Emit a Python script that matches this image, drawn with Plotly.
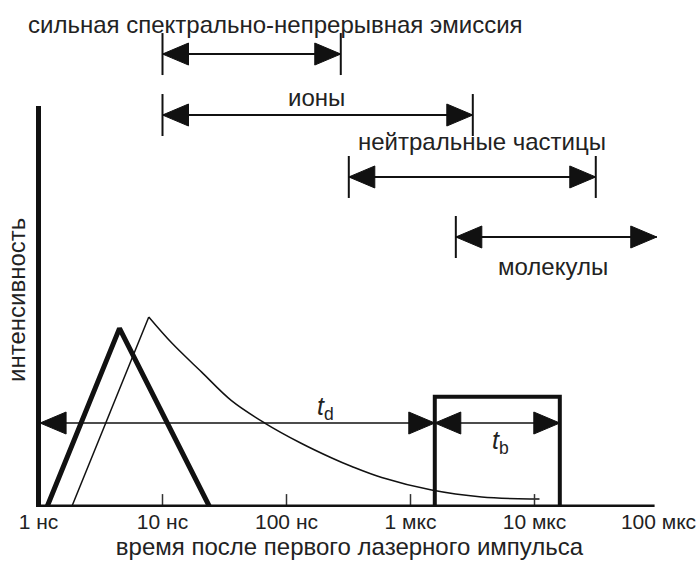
import numpy as np
import plotly.graph_objects as go

FONT = "Liberation Sans, Arial, sans-serif"
INK = "#111111"
TXT = "#222222"

# ---- time axis (values in ns) ----
tick_ns = [1, 10, 100, 1e3, 1e4, 1e5]
tick_text = ["1 нс", "10 нс", "100 нс", "1 мкс", "10 мкс", "100 мкс"]
tick_mark_ns = [10, 100, 1e3, 1e4]
axis_origin_ns = 1.0
axis_end_ns = 9.3e4
axis_top = 2.11

# ---- laser pulse (bold triangle) ----
pulse_ns = [1.17, 4.5, 24.0]
pulse_int = [0.0, 0.94, 0.0]

# ---- plasma emission: fast rise, slow decay ----
emission_ns = [1.85, 7.75, 12.0, 20.7, 36.0, 66.8, 130, 232, 336, 586, 1480, 3750, 9500, 10970]
emission_int = [0.0, 1.0, 0.86, 0.71, 0.56, 0.442, 0.337, 0.258, 0.213, 0.155, 0.089, 0.053, 0.042, 0.042]

# ---- detector gate ----
gate_open_ns = 1570
gate_close_ns = 16000
gate_height = 0.58
gate_row = 0.442

# ---- lifetimes of plasma species ----
span_labels = ["сильная спектрально-непрерывная эмиссия", "ионы",
               "нейтральные частицы", "молекулы"]
span_start_ns = [10, 10, 318, 2320]
span_end_ns = [274, 3180, 31200, 96800]
span_row = [2.384, 2.063, 1.737, 1.421]
span_end_bar = [True, True, True, False]
span_label_ns = [0.80, 176, 3750, 14000]
span_label_y = [2.537, 2.153, 1.926, 1.268]
span_label_anchor = ["left", "center", "center", "center"]

X_RANGE = [np.log10(axis_origin_ns) - 38.5 / 124, np.log10(axis_origin_ns) + (699 - 38.5) / 124]
Y_RANGE = [0, 507 / 190]
HEAD_LEN = 26 / 124     # arrowhead length, decades
HEAD_HALF = 11 / 190    # arrowhead half height, intensity units
BAR_HALF = 21 / 190     # end bar half height

fig = go.Figure()


def line(xs, ys, width, color=INK, shape="linear"):
    fig.add_trace(go.Scatter(x=xs, y=ys, mode="lines", hoverinfo="skip",
                             line=dict(color=color, width=width, shape=shape)))


heads_x, heads_y = [], []


def head(tip_ns, direction, y):
    lt = np.log10(tip_ns)
    base = lt - direction * HEAD_LEN
    heads_x.extend([10 ** lt, 10 ** base, 10 ** base, 10 ** lt, None])
    heads_y.extend([y, y + HEAD_HALF, y - HEAD_HALF, y, None])


# species arrows
for s, e, r, eb in zip(span_start_ns, span_end_ns, span_row, span_end_bar):
    line([s, e], [r, r], 2)
    line([s, s], [r - BAR_HALF, r + BAR_HALF], 2)
    if eb:
        line([e, e], [r - BAR_HALF, r + BAR_HALF], 2)
    head(s, -1, r)
    head(e, 1, r)

# emission: straight rise, smooth decay
line(emission_ns[:2], emission_int[:2], 1.5)
line(emission_ns[1:], emission_int[1:], 1.5, shape="spline")
line(pulse_ns, pulse_int, 5)

# gate box
line([gate_open_ns, gate_open_ns, gate_close_ns, gate_close_ns],
     [0, gate_height, gate_height, 0], 4)

# delay and gate-width arrows
line([axis_origin_ns, gate_close_ns], [gate_row, gate_row], 1.5)
head(axis_origin_ns * 1.03, -1, gate_row)
head(gate_open_ns, 1, gate_row)
head(gate_open_ns, -1, gate_row)
head(gate_close_ns, 1, gate_row)

fig.add_trace(go.Scatter(x=heads_x, y=heads_y, mode="lines", fill="toself",
                         fillcolor=INK, hoverinfo="skip",
                         line=dict(color=INK, width=1)))

# tick marks
for t in tick_mark_ns:
    line([t, t], [0, 0.068], 1.5, "#333333")

# axes
line([axis_origin_ns, axis_end_ns], [0, 0], 5)
line([axis_origin_ns, axis_origin_ns], [0, axis_top], 5)

annotations = []
for txt, x, y, a in zip(span_labels, span_label_ns, span_label_y, span_label_anchor):
    annotations.append(dict(x=np.log10(x), y=y, text=txt, showarrow=False,
                            xanchor=a, yanchor="middle",
                            font=dict(family=FONT, size=24, color=TXT)))

annotations.append(dict(x=np.log10(207), y=0.521, text="<i>t</i><sub>d</sub>",
                        showarrow=False, font=dict(family=FONT, size=25, color=TXT)))
annotations.append(dict(x=np.log10(5350), y=0.342, text="<i>t</i><sub>b</sub>",
                        showarrow=False, font=dict(family=FONT, size=25, color=TXT)))
annotations.append(dict(x=X_RANGE[0] + 17 / 124, y=1.09, text="интенсивность",
                        textangle=-90, showarrow=False,
                        font=dict(family=FONT, size=24, color=TXT)))

fig.update_layout(
    width=699, height=574,
    margin=dict(l=0, r=0, t=0, b=67),
    paper_bgcolor="white", plot_bgcolor="white",
    showlegend=False,
    annotations=annotations,
    xaxis=dict(type="log", range=X_RANGE, tickvals=tick_ns, ticktext=tick_text,
               ticks="", showgrid=False, zeroline=False, showline=False,
               automargin=False,
               tickfont=dict(family=FONT, size=21, color=TXT),
               title=dict(text="время после первого лазерного импульса",
                          font=dict(family=FONT, size=24, color=TXT), standoff=5)),
    yaxis=dict(range=Y_RANGE, visible=False, fixedrange=True),
)

fig.write_html("out.html")
